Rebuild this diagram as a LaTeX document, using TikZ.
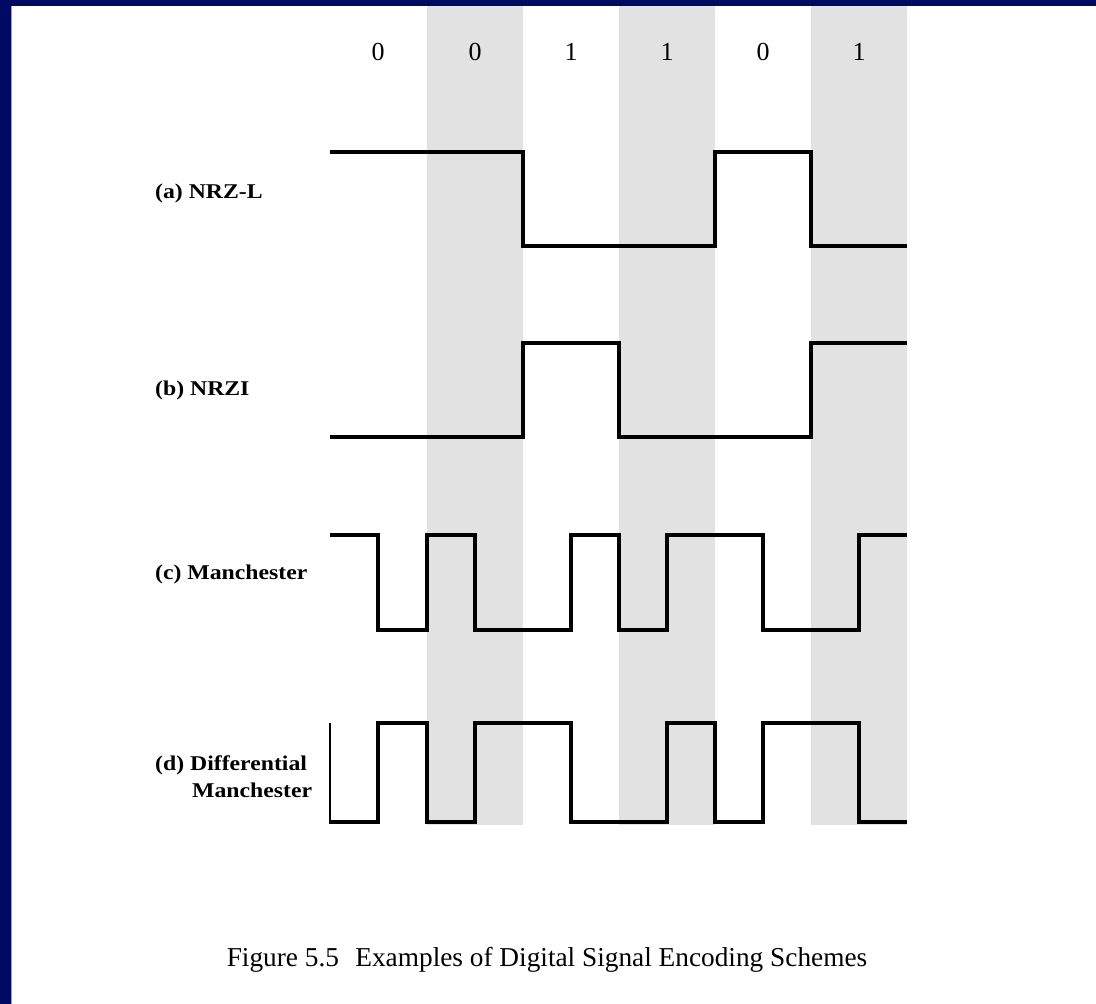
\documentclass[tikz,border=0pt]{standalone}
\usepackage{fontspec}
\setmainfont{Liberation Serif}
\definecolor{navy}{RGB}{0,10,100}
\definecolor{edgeblue}{RGB}{150,155,210}
\definecolor{shadegray}{RGB}{226,226,226}
\tikzset{
  wave/.style={line width=4pt, line join=miter, line cap=butt},
  thinwave/.style={line width=2pt},
  bitlabel/.style={inner sep=0pt, font=\fontsize{26}{30}\selectfont},
  rowlabel/.style={inner sep=0pt, anchor=west, font=\fontsize{21}{24}\selectfont\bfseries},
  caption/.style={inner sep=0pt, font=\fontsize{27.3}{31}\selectfont}
}
\newcommand{\wide}[1]{\scalebox{1.13}[1]{#1}}
\begin{document}
\begin{tikzpicture}[x=1pt,y=-1pt]
\useasboundingbox (0,0) rectangle (1096,1004);
\fill[white] (0,0) rectangle (1096,1004);
% shaded bit columns
\foreach \a/\b in {426.5/523,619/715,811/907}
  \fill[shadegray] (\a,6) rectangle (\b,825);
% frame
\fill[navy] (0,0) rectangle (1096,6);
\fill[navy] (0,0) rectangle (11,1004);
\draw[edgeblue, line width=1pt] (11.5,6) -- (11.5,1004);
% bit labels
\foreach \x/\v [count=\i] in {378/0,475/0,571/1,667/1,763/0,859/1}
  \node[bitlabel] (bit\i) at (\x,52) {\v};
% row labels
\node[rowlabel] (la) at (155,193) {\wide{(a) NRZ-L}};
\node[rowlabel] (lb) at (155,390) {\wide{(b) NRZI}};
\node[rowlabel] (lc) at (155,574) {\wide{(c) Manchester}};
\node[rowlabel] (ld1) at (155,765) {\wide{(d) Differential}};
\node[rowlabel] (ld2) at (192,790) {\wide{Manchester}};
% (a) NRZ-L
\draw[wave] (330,152) -- (523,152) -- (523,246) -- (715,246) -- (715,152)
  -- (811,152) -- (811,246) -- (907,246);
% (b) NRZI
\draw[wave] (330,437) -- (523,437) -- (523,343) -- (619,343) -- (619,437)
  -- (811,437) -- (811,343) -- (907,343);
% (c) Manchester
\draw[wave] (330,535) -- (378,535) -- (378,630) -- (427,630) -- (427,535)
  -- (475,535) -- (475,630) -- (571,630) -- (571,535) -- (619,535)
  -- (619,630) -- (667,630) -- (667,535) -- (763,535) -- (763,630)
  -- (859,630) -- (859,535) -- (907,535);
% (d) Differential Manchester
\draw[thinwave] (330,723) -- (330,823);
\draw[wave] (329,822) -- (378,822) -- (378,723) -- (427,723) -- (427,822)
  -- (475,822) -- (475,723) -- (571,723) -- (571,822) -- (667,822)
  -- (667,723) -- (715,723) -- (715,822) -- (763,822) -- (763,723)
  -- (859,723) -- (859,822) -- (907,822);
% caption
\node[caption] (cap) at (547,960) {Figure 5.5\hspace{0.6em}Examples of Digital Signal Encoding Schemes};
\end{tikzpicture}
\end{document}
